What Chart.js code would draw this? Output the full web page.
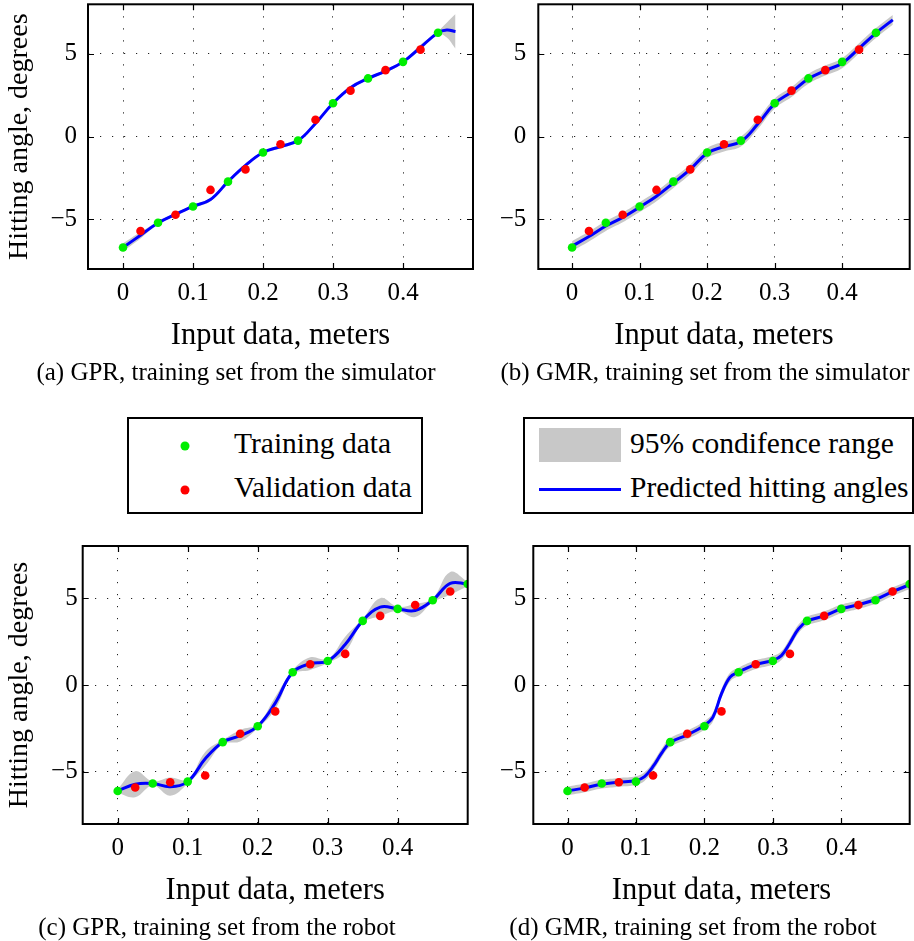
<!DOCTYPE html>
<html>
<head>
<meta charset="utf-8">
<script src="https://cdn.jsdelivr.net/npm/chart.js@4.4.1/dist/chart.umd.min.js"></script>
<style>
  html, body { margin: 0; padding: 0; background: #fff; }
  body { width: 914px; height: 941px; position: relative; overflow: hidden;
         font-family: "Liberation Serif", "Times New Roman", serif; color: #000; }
  .panel { position: absolute; }
  .caption { position: absolute; font-size: 25px; white-space: nowrap; line-height: 1;
             transform: translate(-50%, -50%); }
  .legend { position: absolute; border: 2px solid #000; box-sizing: border-box; background: #fff; }
  .legend .txt { position: absolute; font-size: 29.5px; white-space: nowrap; line-height: 1;
                 transform: translateY(-50%); }
  .legend .dot { position: absolute; width: 9px; height: 9px; border-radius: 50%;
                 transform: translate(-50%, -50%); }
  .legend .swatch { position: absolute; background: #c8c8c8; }
  .legend .stroke { position: absolute; background: #0000ff; }
</style>
</head>
<body>

<div class="panel" style="left:0;top:0;"><canvas id="gprSim" width="480" height="360"></canvas></div>
<div class="panel" style="left:450px;top:0;"><canvas id="gmrSim" width="464" height="360"></canvas></div>
<div class="panel" style="left:0;top:540px;"><canvas id="gprRobot" width="480" height="375"></canvas></div>
<div class="panel" style="left:450px;top:540px;"><canvas id="gmrRobot" width="464" height="375"></canvas></div>

<div class="caption" style="left:236px;top:371px;">(a) GPR, training set from the simulator</div>
<div class="caption" style="left:705px;top:371px;">(b) GMR, training set from the simulator</div>
<div class="caption" style="left:217px;top:926px;">(c) GPR, training set from the robot</div>
<div class="caption" style="left:693px;top:926px;">(d) GMR, training set from the robot</div>

<div class="legend" style="left:127px;top:417px;width:296px;height:97px;">
  <div class="dot" style="left:56px;top:27px;background:#00ee00;"></div>
  <div class="txt" style="left:105px;top:25px;">Training data</div>
  <div class="dot" style="left:56px;top:71px;background:#ff0000;"></div>
  <div class="txt" style="left:105px;top:69px;">Validation data</div>
</div>
<div class="legend" style="left:523px;top:417px;width:391px;height:97px;">
  <div class="swatch" style="left:14px;top:9px;width:82px;height:34px;"></div>
  <div class="txt" style="left:105px;top:25px;">95% condifence range</div>
  <div class="stroke" style="left:14px;top:69px;width:82px;height:3px;"></div>
  <div class="txt" style="left:105px;top:69px;">Predicted hitting angles</div>
</div>

<script>
// ---- Axis ticks -------------------------------------------------------
const xTicks = [0, 0.1, 0.2, 0.3, 0.4];
const xTickLabels = ['0', '0.1', '0.2', '0.3', '0.4'];
const yTicks = [-5, 0, 5];
const yTickLabels = ['\u22125', '0', '5'];

// ---- Training / validation samples gathered in the simulator ----------
const simTrainX = [0, 0.05, 0.1, 0.15, 0.2, 0.25, 0.3, 0.35, 0.4, 0.45];
const simTrainY = [-6.70, -5.20, -4.22, -2.72, -0.96, -0.24, 2.02, 3.52, 4.52, 6.28];
const simValidX = [0.025, 0.075, 0.125, 0.175, 0.225, 0.275, 0.325, 0.375, 0.425];
const simValidY = [-5.70, -4.72, -3.22, -1.98, -0.46, 1.02, 2.78, 4.02, 5.26];

// ---- Training / validation samples gathered on the robot --------------
const robotTrainX = [0, 0.05, 0.1, 0.15, 0.2, 0.25, 0.3, 0.35, 0.4, 0.45, 0.5];
const robotTrainY = [-6.10, -5.67, -5.56, -3.29, -2.37, 0.73, 1.38, 3.69, 4.38, 4.88, 5.81];
const robotValidX = [0.025, 0.075, 0.125, 0.175, 0.225, 0.275, 0.325, 0.375, 0.425, 0.475];
const robotValidY = [-5.90, -5.60, -5.21, -2.81, -1.52, 1.19, 1.79, 3.98, 4.60, 5.38];

// ---- Predicted hitting angles and 95% half-widths ---------------------
// (a) GPR, simulator
const gprSimX = [0, 0.025, 0.05, 0.075, 0.1, 0.125, 0.15, 0.175, 0.2, 0.225, 0.25, 0.275,
                 0.3, 0.325, 0.35, 0.375, 0.4, 0.425, 0.45, 0.4625, 0.475];
const gprSimY = [-6.70, -5.96, -5.22, -4.70, -4.22, -3.80, -2.72, -1.74, -0.96, -0.60, -0.24, 0.80,
                 2.02, 2.96, 3.52, 3.96, 4.52, 5.40, 6.28, 6.44, 6.36];
const gprSimHalf = [0.25, 0.2, 0.08, 0.1, 0.08, 0.1, 0.08, 0.1, 0.08, 0.1, 0.08, 0.1,
                    0.08, 0.1, 0.08, 0.1, 0.08, 0.15, 0.1, 0.45, 1.05];

// (b) GMR, simulator
const gmrSimX = [0, 0.025, 0.05, 0.075, 0.1, 0.125, 0.15, 0.175, 0.2, 0.225, 0.25, 0.275,
                 0.3, 0.325, 0.35, 0.375, 0.4, 0.425, 0.45, 0.475];
const gmrSimY = [-6.62, -6.04, -5.40, -4.88, -4.26, -3.60, -2.80, -1.98, -1.00, -0.60, -0.30, 0.76,
                 2.00, 2.70, 3.50, 4.00, 4.44, 5.34, 6.26, 7.06];
const gmrSimHalf = [0.3, 0.3, 0.3, 0.3, 0.3, 0.3, 0.3, 0.3, 0.3, 0.3, 0.3, 0.3,
                    0.3, 0.3, 0.3, 0.3, 0.3, 0.3, 0.3, 0.3];

// (c) GPR, robot
const gprRobotX = [0, 0.025, 0.05, 0.075, 0.1, 0.125, 0.15, 0.175, 0.2, 0.225, 0.25, 0.275,
                   0.3, 0.325, 0.35, 0.375, 0.4, 0.425, 0.45, 0.475, 0.5];
const gprRobotY = [-6.10, -5.71, -5.67, -5.85, -5.56, -4.25, -3.29, -2.92, -2.37, -1.04, 0.73, 1.23,
                   1.38, 2.33, 3.69, 4.48, 4.38, 4.29, 4.88, 5.85, 5.81];
const gprRobotHalf = [0.12, 0.75, 0.12, 0.52, 0.12, 0.4, 0.12, 0.33, 0.12, 0.35, 0.12, 0.36,
                      0.12, 0.45, 0.12, 0.52, 0.12, 0.38, 0.12, 0.65, 0.12];

// (d) GMR, robot
const gmrRobotX = [0, 0.025, 0.05, 0.075, 0.1, 0.1125, 0.125, 0.1375, 0.15, 0.175, 0.2, 0.2125,
                   0.225, 0.2375, 0.25, 0.275, 0.3, 0.3125, 0.325, 0.3375, 0.35, 0.375, 0.4,
                   0.425, 0.45, 0.475, 0.5];
const gmrRobotY = [-6.10, -5.92, -5.71, -5.60, -5.50, -5.27, -4.69, -3.92, -3.31, -2.87, -2.33, -1.85,
                   -0.50, 0.45, 0.75, 1.17, 1.42, 1.69, 2.42, 3.23, 3.67, 3.98, 4.38,
                   4.62, 4.92, 5.37, 5.77];
const gmrRobotHalf = gmrRobotX.map(() => 0.25);

// ---- Drawing -----------------------------------------------------------
const FONT = '"Liberation Serif", "Times New Roman", serif';
const pts = (xs, ys) => xs.map((x, i) => ({ x, y: ys[i] }));

// Box around the plot area with short inward tick marks on all four sides
const framePlugin = {
  id: 'frame',
  afterDatasetsDraw(chart) {
    const { ctx, chartArea: a, scales: { x, y } } = chart;
    ctx.save();
    ctx.strokeStyle = '#000';
    ctx.lineWidth = 1.2;
    ctx.beginPath();
    x.ticks.forEach(t => {
      const px = Math.round(x.getPixelForValue(t.value)) + 0.5;
      ctx.moveTo(px, a.bottom); ctx.lineTo(px, a.bottom - 6);
      ctx.moveTo(px, a.top); ctx.lineTo(px, a.top + 6);
    });
    y.ticks.forEach(t => {
      const py = Math.round(y.getPixelForValue(t.value)) + 0.5;
      ctx.moveTo(a.left, py); ctx.lineTo(a.left + 6, py);
      ctx.moveTo(a.right, py); ctx.lineTo(a.right - 6, py);
    });
    ctx.stroke();
    ctx.lineWidth = 2;
    ctx.strokeRect(a.left, a.top, a.right - a.left, a.bottom - a.top);
    ctx.restore();
  }
};

function panel(id, cfg) {
  const curve = pts(cfg.cx, cfg.cy);
  const upper = cfg.cx.map((x, i) => ({ x, y: cfg.cy[i] + cfg.half[i] }));
  const lower = cfg.cx.map((x, i) => ({ x, y: cfg.cy[i] - cfg.half[i] }));
  const canvas = document.getElementById(id);
  return new Chart(canvas, {
    type: 'scatter',
    data: {
      datasets: [
        { label: 'Training data', data: pts(cfg.tx, cfg.ty), order: 0,
          pointRadius: 4.3, pointBorderWidth: 0, backgroundColor: '#00ee00' },
        { label: 'Validation data', data: pts(cfg.vx, cfg.vy), order: 1,
          pointRadius: 4.3, pointBorderWidth: 0, backgroundColor: '#ff0000' },
        { label: 'Predicted hitting angles', data: curve, order: 2, showLine: true,
          borderColor: '#0000ff', borderWidth: 3, pointRadius: 0, tension: 0.4 },
        { label: '95% upper', data: upper, order: 3, showLine: true, fill: '+1',
          backgroundColor: '#c8c8c8', borderWidth: 0, pointRadius: 0, tension: 0.4 },
        { label: '95% lower', data: lower, order: 4, showLine: true,
          borderWidth: 0, pointRadius: 0, tension: 0.4 }
      ]
    },
    options: {
      responsive: false,
      animation: false,
      devicePixelRatio: 1,
      events: [],
      layout: { padding: { top: cfg.padTop, right: cfg.padRight, left: 0, bottom: 0 } },
      plugins: { legend: { display: false }, tooltip: { enabled: false } },
      scales: {
        x: {
          type: 'linear', min: -0.05, max: 0.5,
          afterBuildTicks: s => { s.ticks = xTicks.map(v => ({ value: v })); },
          afterFit: s => { s.height = cfg.xAxisH; s.paddingLeft = 0; s.paddingRight = 0; },
          ticks: { callback: (v, i) => xTickLabels[i], padding: 9, color: '#000',
                   font: { family: FONT, size: 25 }, maxRotation: 0, autoSkip: false },
          grid: { color: '#222', lineWidth: 1, drawTicks: false },
          border: { display: false, dash: [1.2, 10.8] },
          title: { display: true, text: 'Input data, meters', color: '#000',
                   font: { family: FONT, size: 30.5 }, padding: { top: 0, bottom: 6 } }
        },
        y: {
          type: 'linear', min: -8, max: 8,
          afterBuildTicks: s => { s.ticks = yTicks.map(v => ({ value: v })); },
          afterFit: s => { s.width = cfg.yAxisW; s.paddingTop = 0; s.paddingBottom = 0; },
          ticks: { callback: (v, i) => yTickLabels[i], padding: cfg.yPad, color: '#000',
                   font: { family: FONT, size: 25 }, autoSkip: false },
          grid: { color: '#222', lineWidth: 1, drawTicks: false },
          border: { display: false, dash: [1.2, 10.8] },
          title: { display: cfg.yTitle, text: 'Hitting angle, degrees', color: '#000',
                   font: { family: FONT, size: 28 }, padding: { top: 3, bottom: 0 } }
        }
      }
    },
    plugins: [framePlugin]
  });
}

function drawAll() {
  panel('gprSim', { tx: simTrainX, ty: simTrainY, vx: simValidX, vy: simValidY,
    cx: gprSimX, cy: gprSimY, half: gprSimHalf,
    padTop: 4, padRight: 7, xAxisH: 91, yAxisW: 88, yPad: 11, yTitle: true });
  panel('gmrSim', { tx: simTrainX, ty: simTrainY, vx: simValidX, vy: simValidY,
    cx: gmrSimX, cy: gmrSimY, half: gmrSimHalf,
    padTop: 4, padRight: 1.3, xAxisH: 91, yAxisW: 88.3, yPad: 12, yTitle: false });
  panel('gprRobot', { tx: robotTrainX, ty: robotTrainY, vx: robotValidX, vy: robotValidY,
    cx: gprRobotX, cy: gprRobotY, half: gprRobotHalf,
    padTop: 6, padRight: 12.3, xAxisH: 91, yAxisW: 82.7, yPad: 5, yTitle: true });
  panel('gmrRobot', { tx: robotTrainX, ty: robotTrainY, vx: robotValidX, vy: robotValidY,
    cx: gmrRobotX, cy: gmrRobotY, half: gmrRobotHalf,
    padTop: 6, padRight: 4, xAxisH: 91, yAxisW: 83.3, yPad: 7, yTitle: false });
}

if (document.fonts && document.fonts.load) {
  Promise.all([document.fonts.load('25px "Liberation Serif"')]).then(drawAll, drawAll);
} else {
  drawAll();
}
</script>
</body>
</html>
